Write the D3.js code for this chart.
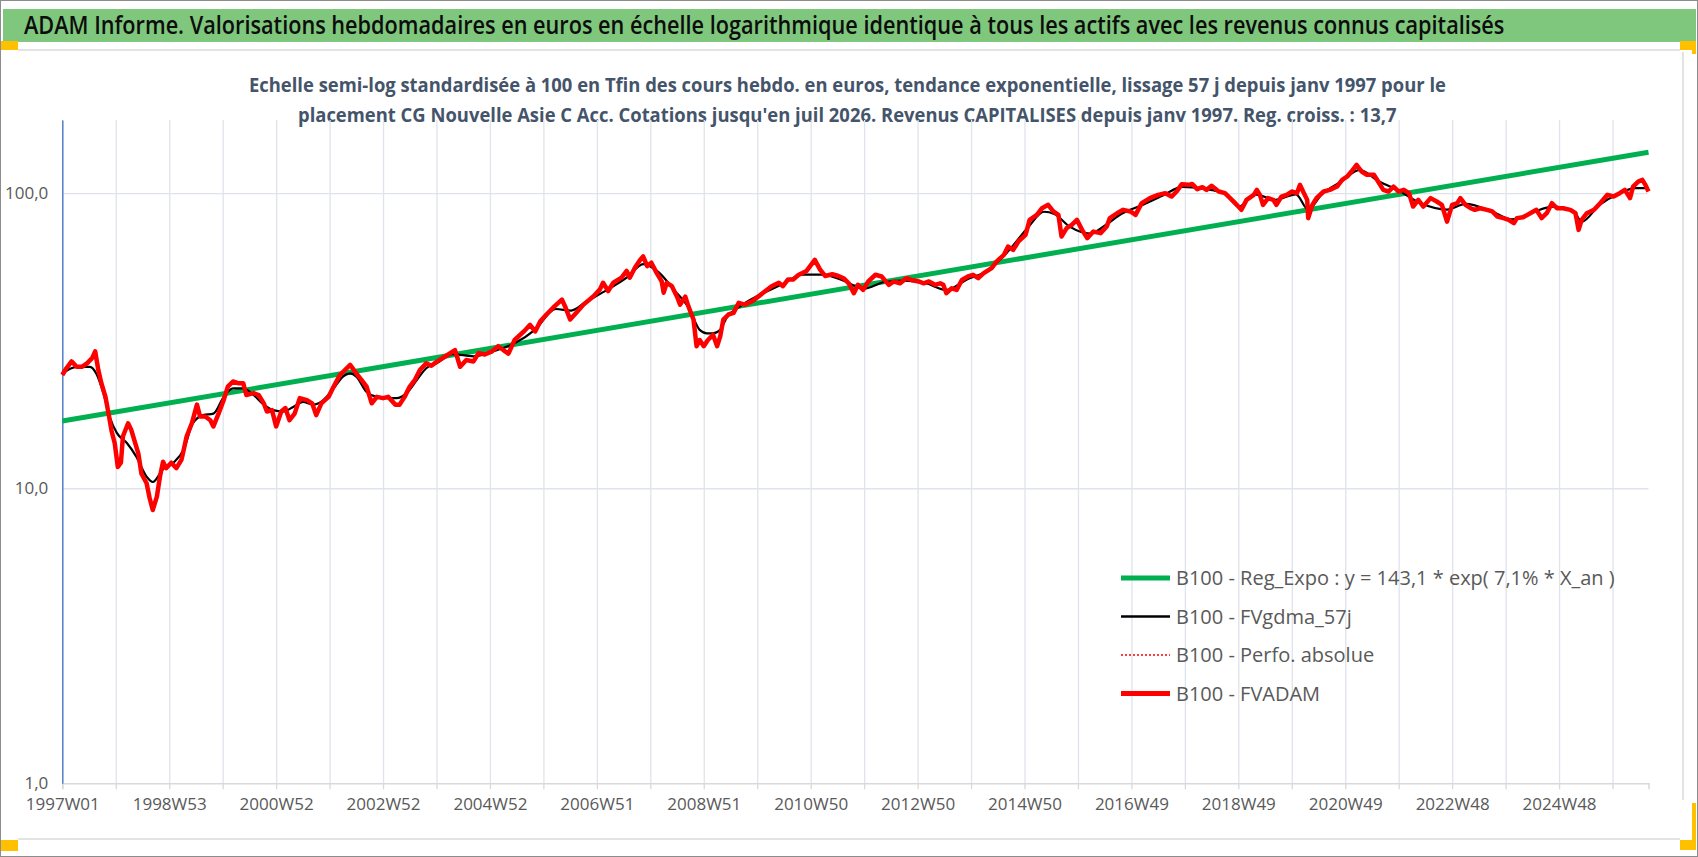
<!DOCTYPE html>
<html>
<head>
<meta charset="utf-8">
<script src="https://cdn.jsdelivr.net/npm/d3@7"></script>
<style>
  body { margin: 0; background: #fff; }
  text { font-family: "Liberation Sans Narrow", "Open Sans", sans-serif; }
</style>
</head>
<body>
<div class="canva"></div>
<script>
// week index 0 = 1997W01, last = juil 2026
const lastWeek = 1543;

// x tick labels (every 104 weeks)
const xTickLabels = ['1997W01', '1998W53', '2000W52', '2002W52', '2004W52', '2006W51', '2008W51',
  '2010W50', '2012W50', '2014W50', '2016W49', '2018W49', '2020W49', '2022W48', '2024W48'];
const yTickValues = [1, 10, 100];
const yTickLabels = ['1,0', '10,0', '100,0'];

// B100 - FVADAM (red)
const redWeeks = [0, 4, 9, 14, 19, 24, 29, 32, 35, 38, 42, 45, 48, 51, 54, 57, 59, 64, 67, 71, 74, 77, 82, 85, 88, 92, 95, 98,
  101, 106, 111, 116, 121, 126, 131, 134, 139, 144, 147, 152, 157, 161, 166, 171, 176, 179, 186, 191, 196, 199,
  204, 208, 213, 217, 221, 226, 231, 238, 243, 247, 252, 259, 264, 270, 280, 286, 291, 296,
  301, 306, 312, 317, 324, 328, 333, 338, 343, 348, 354, 359, 364, 372, 382, 387, 393,
  400, 405, 411, 418, 424, 429, 434, 440, 449, 455, 460, 465, 471, 479, 486, 489, 494,
  500, 507, 517, 523, 526, 531, 536, 544, 549, 552, 557, 562, 565, 569, 573, 578, 583, 585, 588, 593, 598,
  601, 606, 609, 614, 617, 620, 624, 628, 633, 637, 640, 643, 648, 653, 658, 664, 671, 677, 684, 690, 697,
  701, 706, 711, 716, 724, 732, 737, 742, 749, 755, 760, 765, 770, 774, 779, 784, 791, 797,
  804, 809, 815, 821, 826, 833, 838, 843, 849, 854, 857, 860, 865, 870, 875, 881, 886, 891, 896,
  904, 909, 916, 920, 925, 930, 937, 941, 948, 953, 959, 964, 969, 972, 977, 982, 987, 992, 997,
  1003, 1010, 1016, 1019, 1026, 1032, 1039, 1044, 1050, 1058, 1066, 1073, 1079, 1084, 1089, 1096, 1099,
  1104, 1109, 1113, 1118, 1125, 1131, 1136, 1141, 1147, 1152, 1159, 1162, 1165, 1168, 1173, 1178, 1181, 1186, 1191, 1196,
  1201, 1204, 1207, 1211, 1212, 1216, 1220, 1227, 1233, 1240, 1245, 1250, 1254, 1259, 1264, 1269, 1276, 1280, 1285, 1290, 1295,
  1300, 1305, 1310, 1314, 1319, 1324, 1331, 1337, 1342, 1347, 1352, 1357, 1360, 1365, 1370, 1374, 1379, 1386, 1391, 1396,
  1402, 1407, 1412, 1415, 1421, 1428, 1434, 1439, 1444, 1449, 1454, 1460, 1467, 1472, 1475, 1478, 1483, 1490, 1496,
  1503, 1509, 1515, 1520, 1525, 1528, 1533, 1537, 1540, 1543];
const redValues = [24.2, 25.5, 26.9, 25.8, 25.8, 26.5, 27.6, 29.1, 25.2, 22.7, 20.4, 17.9, 15.6, 14.2, 11.8, 12.2, 15.0, 16.6, 15.8, 14.2, 13.1, 11.2, 10.4, 9.25, 8.44, 9.37, 10.95, 12.3,
  11.7, 12.2, 11.7, 12.5, 15.0, 16.6, 19.2, 17.5, 17.5, 17.0, 16.2, 17.9, 19.9, 22.1, 23.0, 22.7, 22.7, 20.7, 21.0, 20.7, 19.4, 18.2,
  18.4, 16.2, 18.2, 18.7, 17.0, 17.9, 20.2, 19.9, 19.4, 17.7, 19.4, 20.4, 22.1, 24.2, 26.2, 24.5, 23.3, 22.1,
  19.4, 20.4, 20.2, 20.4, 19.2, 19.2, 20.4, 22.1, 23.3, 25.2, 26.5, 26.0, 26.8, 27.9, 29.4, 25.8, 27.2,
  26.9, 28.7, 28.4, 29.1, 30.3, 29.4, 28.6, 31.8, 34.0, 35.8, 34.0, 36.8, 38.8, 41.4, 43.6, 41.4, 37.3,
  39.3, 41.9, 44.8, 47.2, 49.7, 46.6, 49.7, 51.7, 54.5, 51.7, 55.9, 59.4, 61.0, 56.6, 58.1, 53.8, 50.3, 46.0, 49.7, 48.4, 44.6,
  41.9, 44.6, 41.4, 37.3, 30.3, 31.8, 30.3, 31.8, 33.1, 30.3, 32.7, 37.3, 38.8, 39.3, 42.5, 41.9, 43.0, 44.6, 46.6, 48.4, 49.7,
  48.4, 51.0, 51.0, 52.8, 54.5, 59.4, 55.2, 52.4, 53.1, 52.4, 51.5, 49.5, 45.8, 48.9, 47.0, 50.2, 52.9, 52.2,
  48.9, 50.2, 49.5, 51.5, 50.8, 50.2, 49.5, 50.2, 48.9, 49.5, 48.9, 45.8, 47.6, 47.0, 50.8, 52.2, 52.9, 51.5, 53.5,
  55.7, 58.7, 61.8, 65.9, 64.2, 68.6, 72.2, 81.2, 84.4, 88.9, 91.3, 86.7, 84.4, 71.3, 76.1, 78.1, 81.2, 75.1, 70.4,
  74.1, 73.2, 77.1, 82.3, 85.5, 87.8, 86.7, 84.4, 92.5, 96.2, 98.7, 100, 97.4, 101.3, 107.3, 106.7, 107.5,
  103.2, 104.8, 102.6, 105.9, 101.3, 100, 96.2, 92.5, 87.8, 94.9, 98.7, 102.6, 98.7, 91.3, 96.2, 94.9, 91.3, 97.4, 98.7, 101.3,
  100, 106.7, 101.3, 94.9, 82.3, 91.3, 96.2, 101.3, 102.6, 105.3, 110.9, 113.9, 118.4, 124.7, 118.4, 115.4, 115.4, 109.5, 102.6, 101.3, 105.3,
  101.3, 102.6, 100, 90.1, 94.9, 90.1, 96.2, 93.7, 91.3, 80.1, 91.3, 92.5, 96.2, 91.3, 88.9, 87.8, 88.9, 87.8, 86.7, 83.3,
  82.3, 81.2, 79.1, 82.3, 82.9, 85.5, 87.8, 82.3, 85.5, 92.5, 88.9, 88.9, 87.8, 85.5, 75.1, 81.2, 85.5, 87.8, 92.5,
  98.7, 97.4, 100, 102.6, 96.2, 105.3, 109.5, 110.9, 106.7, 101.3];

// B100 - FVgdma_57j (black, smoothed)
const blackWeeks = [0, 14, 27, 33, 40, 46, 53, 63, 72, 82, 88, 98, 108, 118, 127, 137, 147, 157, 166, 176, 186, 196,
  205, 215, 225, 234, 244, 254, 264, 273, 280, 286, 296, 306, 315, 325, 335, 345, 354, 364, 380, 400, 420, 440, 460, 480, 495,
  510, 530, 550, 565, 580, 595, 610, 620, 627, 633, 640, 646, 660, 680, 700, 720, 740, 760, 780, 800, 820, 840, 860, 880, 900,
  920, 940, 955, 965, 980, 1000, 1015, 1030, 1050, 1070, 1090, 1110, 1130, 1145, 1160, 1180, 1200, 1212, 1225, 1245, 1262,
  1280, 1300, 1320, 1347, 1365, 1390, 1410, 1430, 1450, 1470, 1478, 1495, 1515, 1530, 1543];
const blackValues = [24.5, 25.8, 25.8, 24.5, 21.0, 17.5, 15.4, 14.2, 12.8, 10.95, 10.5, 11.6, 12.2, 13.5, 16.6, 17.7, 17.9, 20.4, 21.8, 21.8, 20.7, 19.2,
  18.4, 18.2, 18.9, 19.6, 19.2, 19.9, 21.8, 23.9, 24.5, 23.9, 21.2, 20.4, 20.2, 20.2, 21.0, 23.3, 25.5, 26.5, 28.5, 28, 29.2, 31, 34.5, 40.5, 40,
  43, 47, 52, 57.5, 54, 47, 40.5, 34.4, 33.5, 33.5, 34.4, 37.7, 41.5, 45.5, 49, 53, 53, 50.5, 47.5, 50, 50.5, 49.5, 47, 51, 54.5,
  63.5, 77, 86.5, 85, 77, 73, 78, 85, 91, 98, 105, 103.5, 100, 90, 99, 95, 99, 88, 99, 110, 120,
  110, 102, 93, 88, 92, 87, 81.5, 86, 90, 87, 80, 91, 100, 104, 104];

// B100 - Reg_Expo (green), end points of the trend line
const regWeeks = [0, 1543];
const regValues = [16.9, 137.7];

const legendLabels = ['B100 - Reg_Expo : y = 143,1 * exp( 7,1% *  X_an )', 'B100 - FVgdma_57j',
  'B100 - Perfo. absolue', 'B100 - FVADAM'];

const W = 1698, H = 857;
const margin = {top: 120, right: 49.5, bottom: 73.7, left: 62.3};

const svg = d3.select('.canva').append('svg')
    .attr('width', W)
    .attr('height', H);

// squeeze a text horizontally to a given width
function fitWidth(sel, x0, width) {
  const w = sel.node().getComputedTextLength();
  const k = width / w;
  sel.attr('x', 0).attr('transform', `translate(${x0}, 0) scale(${k}, 1)`);
}

// frame
svg.append('rect').attr('x', 0.5).attr('y', 0.5).attr('width', W - 1).attr('height', H - 1)
    .attr('fill', '#fff').attr('stroke', '#8c8c8c');

// title band
svg.append('rect').attr('x', 3).attr('y', 9).attr('width', W - 5).attr('height', 33).attr('fill', '#7fc77c');
const title = svg.append('text')
    .attr('y', 34)
    .attr('font-size', 25).attr('font-weight', 600).attr('fill', '#0d0d0d')
    .text('ADAM Informe. Valorisations hebdomadaires en euros en échelle logarithmique identique à tous les actifs avec les revenus connus capitalisés');
fitWidth(title, 24, 1481);

// thin rules and yellow corner marks
svg.append('line').attr('x1', 18).attr('x2', W - 18).attr('y1', 50).attr('y2', 50).attr('stroke', '#e3e3e3').attr('stroke-width', 2);
svg.append('line').attr('x1', 18).attr('x2', W - 18).attr('y1', 839).attr('y2', 839).attr('stroke', '#e3e3e3').attr('stroke-width', 2);
svg.append('line').attr('x1', W - 15).attr('x2', W - 15).attr('y1', 52).attr('y2', 800).attr('stroke', '#e3e3e3').attr('stroke-width', 2);
const marks = [[1, 41, 17, 9], [W - 18, 41, 16, 9], [W - 6, 41, 4, 13], [1, 840, 17, 11], [W - 6, 803, 4, 47], [W - 18, 840, 16, 10]];
svg.selectAll('rect.mark').data(marks).enter().append('rect')
    .attr('class', 'mark')
    .attr('x', d => d[0]).attr('y', d => d[1]).attr('width', d => d[2]).attr('height', d => d[3])
    .attr('fill', '#ffc000');

// subtitle
const sub = svg.append('g').attr('fill', '#44546a').attr('font-weight', 'bold').attr('font-size', 20);
const sub1 = sub.append('text').attr('y', 92)
    .text('Echelle semi-log standardisée à 100 en Tfin des cours hebdo. en euros, tendance exponentielle, lissage 57 j depuis janv 1997 pour le');
fitWidth(sub1, 249, 1197);
const sub2 = sub.append('text').attr('y', 122)
    .text("placement CG Nouvelle Asie C Acc. Cotations jusqu'en juil 2026. Revenus CAPITALISES depuis janv 1997. Reg. croiss. : 13,7");
fitWidth(sub2, 298, 1099);

const graphWidth = W - margin.left - margin.right;
const graphHeight = H - margin.top - margin.bottom;

const graph = svg.append('g')
    .attr('transform', `translate(${margin.left}, ${margin.top})`);

const x = d3.scaleLinear().domain([0, lastWeek]).range([0, graphWidth]);
const y = d3.scaleLog().domain([1, 177]).range([graphHeight, 0]);

// vertical gridlines every 52 weeks
const gridWeeks = d3.range(0, lastWeek, 52);
graph.append('g')
    .attr('transform', `translate(0, ${graphHeight})`)
    .call(d3.axisBottom(x).tickValues(gridWeeks).tickSize(-graphHeight).tickFormat(''))
    .call(g => g.select('.domain').remove())
    .call(g => g.selectAll('line').attr('stroke', '#dfe3eb').attr('stroke-width', 1.3));

// horizontal gridlines
graph.append('g')
    .call(d3.axisLeft(y).tickValues([10, 100]).tickSize(-graphWidth).tickFormat(''))
    .call(g => g.select('.domain').remove())
    .call(g => g.selectAll('line').attr('stroke', '#dfe3eb').attr('stroke-width', 1.3));

// x axis
const xAxis = graph.append('g')
    .attr('transform', `translate(0, ${graphHeight})`)
    .call(d3.axisBottom(x).tickValues(gridWeeks).tickSize(6)
        .tickFormat((d, i) => i % 2 === 0 ? xTickLabels[i / 2] : ''));
xAxis.select('.domain').attr('stroke', '#d9d9d9').attr('stroke-width', 1.5);
xAxis.selectAll('.tick line').attr('stroke', '#d9d9d9').attr('stroke-width', 1.3);
xAxis.selectAll('.tick text').attr('fill', '#595959').attr('font-size', 17).attr('dy', '1.05em')
    .style('font-family', '"Liberation Sans Narrow", "Open Sans", sans-serif');

// y axis
const yAxis = graph.append('g')
    .call(d3.axisLeft(y).tickValues(yTickValues).tickSize(0).tickPadding(14)
        .tickFormat((d, i) => yTickLabels[i]));
yAxis.select('.domain').attr('stroke', '#4472c4').attr('stroke-width', 1.3);
yAxis.selectAll('.tick text').attr('fill', '#595959').attr('font-size', 17)
    .style('font-family', '"Liberation Sans Narrow", "Open Sans", sans-serif');

// series
const line = d3.line().x(d => x(d[0])).y(d => y(d[1]));

graph.append('path')
    .datum(d3.zip(regWeeks, regValues))
    .attr('d', line).attr('fill', 'none').attr('stroke', '#00b050').attr('stroke-width', 5);

graph.append('path')
    .datum(d3.zip(blackWeeks, blackValues))
    .attr('d', line.curve(d3.curveMonotoneX)).attr('fill', 'none').attr('stroke', '#000').attr('stroke-width', 2.2);

graph.append('path')
    .datum(d3.zip(redWeeks, redValues))
    .attr('d', d3.line().x(d => x(d[0])).y(d => y(d[1])))
    .attr('fill', 'none').attr('stroke', '#ff0000').attr('stroke-width', 4.5).attr('stroke-linejoin', 'round');

// legend
const legendStyles = [
  {color: '#00b050', width: 5, dash: null},
  {color: '#000', width: 2.5, dash: null},
  {color: '#ff0000', width: 1.5, dash: '2,2'},
  {color: '#ff0000', width: 5, dash: null}
];
const legend = svg.append('g').attr('transform', 'translate(1121, 578)');
const items = legend.selectAll('g').data(legendLabels).enter().append('g')
    .attr('transform', (d, i) => `translate(0, ${i * 38.5})`);
items.append('line')
    .attr('x1', 0).attr('x2', 49).attr('y1', 0).attr('y2', 0)
    .attr('stroke', (d, i) => legendStyles[i].color)
    .attr('stroke-width', (d, i) => legendStyles[i].width)
    .attr('stroke-dasharray', (d, i) => legendStyles[i].dash);
items.append('text')
    .attr('x', 55).attr('y', 7)
    .attr('font-size', 20).attr('fill', '#595959')
    .text(d => d);
</script>
</body>
</html>
